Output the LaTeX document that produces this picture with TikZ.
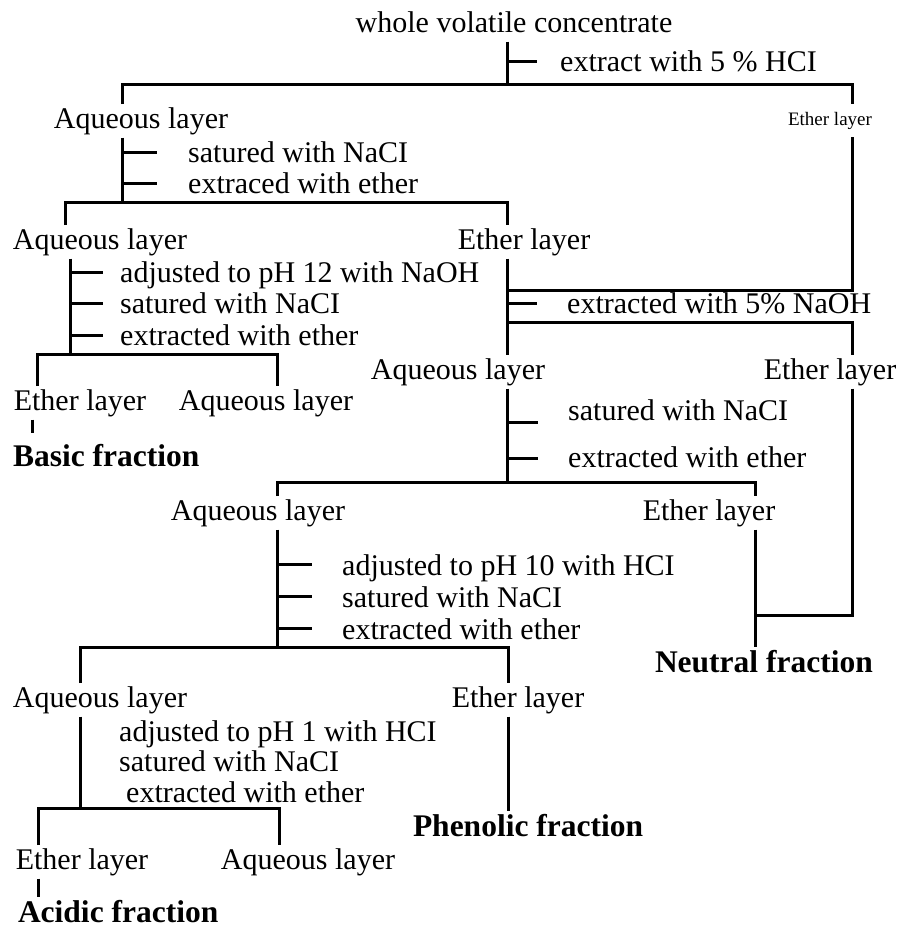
\documentclass[tikz,border=0pt]{standalone}
\usepackage{fontspec}
\setmainfont{Liberation Serif}
\begin{document}
\begin{tikzpicture}[x=1pt,y=-1pt,
  ln/.style={line width=3pt},
  layer/.style={inner sep=0pt, outer sep=3pt, text height=21pt, text depth=6.5pt, anchor=base, font=\fontsize{30}{36}\selectfont},
  cond/.style={inner sep=0pt, anchor=base west, font=\fontsize{30}{36}\selectfont},
  frac/.style={inner sep=0pt, outer sep=3pt, text height=22pt, text depth=7pt, anchor=base west, font=\fontsize{31.5}{38}\selectfont\bfseries},
  small/.style={inner sep=0pt, outer sep=8pt, text height=13pt, text depth=4pt, anchor=base, font=\fontsize{19}{23}\selectfont}]
\useasboundingbox (0,0) rectangle (905,930);
% ---- text nodes
\node[layer] (wvc) at (514,32) {whole volatile concentrate};
\node[cond] (c1) at (560,71) {extract with 5 \% HCI};
\node[layer] (aq1) at (141,128) {Aqueous layer};
\node[small] (et1) at (830,125) {Ether layer};
\node[cond] (c2) at (188,162) {satured with NaCI};
\node[cond] (c3) at (188,193) {extraced with ether};
\node[layer] (aq2) at (100,249) {Aqueous layer};
\node[layer] (et2) at (524,249) {Ether layer};
\node[cond] (c4) at (120,282) {adjusted to pH 12 with NaOH};
\node[cond] (c5) at (120,313) {satured with NaCI};
\node[cond] (c6) at (120,345) {extracted with ether};
\node[cond] (c7) at (567,313) {extracted with 5\% NaOH};
\node[layer] (et3) at (80,410) {Ether layer};
\node[layer] (aq3) at (266,410) {Aqueous layer};
\node[frac] (basic) at (10,466) {Basic fraction};
\node[layer] (aq4) at (458,379) {Aqueous layer};
\node[layer] (et4) at (830,379) {Ether layer};
\node[cond] (c8) at (568,420) {satured with NaCI};
\node[cond] (c9) at (568,467) {extracted with ether};
\node[layer] (aq5) at (258,520) {Aqueous layer};
\node[layer] (et5) at (709,520) {Ether layer};
\node[cond] (c10) at (342,575) {adjusted to pH 10 with HCI};
\node[cond] (c11) at (342,607) {satured with NaCI};
\node[cond] (c12) at (342,639) {extracted with ether};
\node[frac] (neutral) at (652,672) {Neutral fraction};
\node[layer] (aq6) at (100,707) {Aqueous layer};
\node[layer] (et6) at (518,707) {Ether layer};
\node[cond] (c13) at (119,741) {adjusted to pH 1 with HCI};
\node[cond] (c14) at (119,771) {satured with NaCI};
\node[cond] (c15) at (126,802) {extracted with ether};
\node[frac] (phenolic) at (410,836) {Phenolic fraction};
\node[layer] (et7) at (82,869) {Ether layer};
\node[layer] (aq7) at (308,869) {Aqueous layer};
\node[frac] (acidic) at (15,922) {Acidic fraction};
% ---- junction coordinates
\coordinate (v1) at (507,84);
\coordinate (b1l) at (122,84);
\coordinate (b1r) at (852,84);
\coordinate (b2l) at (65,202);
\coordinate (b2m) at (122,202);
\coordinate (b2r) at (507,202);
\coordinate (b3l) at (37,354);
\coordinate (b3m) at (70,354);
\coordinate (b3r) at (277,354);
\coordinate (bs) at (32,433);
\coordinate (b4l) at (507,290);
\coordinate (b4r) at (852,290);
\coordinate (b5l) at (507,322);
\coordinate (b5r) at (852,322);
\coordinate (b6l) at (277,482);
\coordinate (b6m) at (507,482);
\coordinate (b6r) at (755,482);
\coordinate (b7l) at (755,615);
\coordinate (b7r) at (852,615);
\coordinate (b8l) at (80,647);
\coordinate (b8m) at (277,647);
\coordinate (b8r) at (508,647);
\coordinate (b9l) at (38,808);
\coordinate (b9m) at (80,808);
\coordinate (b9r) at (279,808);
% ---- connectors
\draw[ln] (wvc.south -| v1) -- (v1);
\draw[ln] (aq1.north -| b1l) -- (b1l) -- (b1r) -- (et1.north -| b1r);
\draw[ln] (aq1.south -| b2m) -- (b2m);
\draw[ln] (aq2.north -| b2l) -- (b2l) -- (b2r) -- (et2.north -| b2r);
\draw[ln] (aq2.south -| b3m) -- (b3m);
\draw[ln] (et3.north -| b3l) -- (b3l) -- (b3r) -- (aq3.north -| b3r);
\draw[ln] (et3.south -| bs) -- (bs);
\draw[ln] (et1.south -| b4r) -- (b4r) -- (b4l);
\draw[ln] (et2.south -| b4l) -- (aq4.north -| b4l);
\draw[ln] (b5l) -- (b5r) -- (et4.north -| b5r);
\draw[ln] (aq4.south -| b6m) -- (b6m);
\draw[ln] (aq5.north -| b6l) -- (b6l) -- (b6r) -- (et5.north -| b6r);
\draw[ln] (et4.south -| b7r) -- (b7r) -- (b7l);
\draw[ln] (et5.south -| b7l) -- (neutral.north -| b7l);
\draw[ln] (aq5.south -| b8m) -- (b8m);
\draw[ln] (aq6.north -| b8l) -- (b8l) -- (b8r) -- (et6.north -| b8r);
\draw[ln] (aq6.south -| b9m) -- (b9m);
\draw[ln] (et7.north -| b9l) -- (b9l) -- (b9r) -- (aq7.north -| b9r);
\draw[ln] (et6.south -| b8r) -- (phenolic.north -| b8r);
\draw[ln] (et7.south -| b9l) -- (acidic.north -| b9l);
% ---- ticks
\foreach \x/\y/\l in {507/61/30, 122/152/35, 122/183/35, 70/272/33, 70/303/33, 70/335/33,
  507/303/30, 507/422/31, 507/458/31, 277/564/35, 277/596/35, 277/628/35}
  \draw[ln] (\x,\y) -- ++(\l,0);
\end{tikzpicture}
\end{document}
